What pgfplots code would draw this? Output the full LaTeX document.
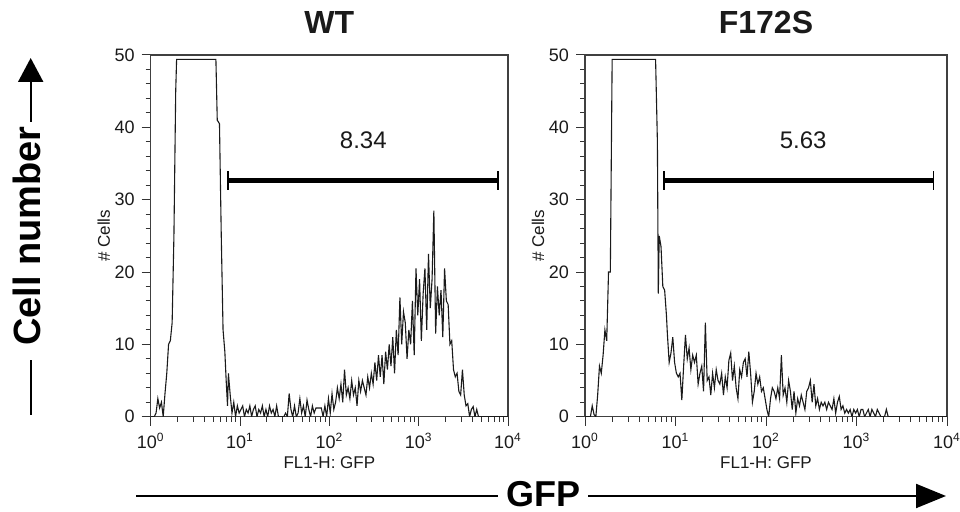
\documentclass[border=0pt]{standalone}
\usepackage{fontspec}
\setmainfont{Liberation Sans}
\usepackage{pgfplots}
\usepackage{pgfplotstable}
\pgfplotsset{compat=1.18}
\usetikzlibrary{arrows.meta}

% x = log10 of FL1-H channel, n = # cells
\pgfplotstableread[row sep=\\]{
lx n\\
0 0\\ 0.02 0\\ 0.04 0\\ 0.06 0.5\\ 0.08 2.5\\ 0.10 1.2\\ 0.12 2\\ 0.14 0\\ 0.16 3.2\\ 0.18 6\\
0.20 10\\ 0.22 10.5\\ 0.24 13\\ 0.26 25\\ 0.28 45\\ 0.29 49.4\\ 0.73 49.4\\ 0.745 41\\ 0.77 40.5\\ 0.79 25\\
0.81 12\\ 0.83 9\\ 0.845 5\\ 0.86 1.5\\ 0.87 6\\ 0.89 3\\ 0.91 0.5\\ 0.93 2\\ 0.95 0\\ 0.97 1.5\\
0.99 0.5\\ 1.01 1\\ 1.03 1.5\\ 1.05 0\\ 1.07 1\\ 1.09 0.5\\ 1.11 1.5\\ 1.13 0\\ 1.15 1\\ 1.17 1.5\\
1.19 0\\ 1.21 1\\ 1.23 0.5\\ 1.25 1.5\\ 1.27 0\\ 1.29 1\\ 1.31 0\\ 1.33 1.5\\ 1.35 0.5\\ 1.37 1\\
1.39 0\\ 1.41 1.5\\ 1.43 0\\ 1.45 0\\ 1.47 0\\ 1.49 0\\ 1.51 0.5\\ 1.53 0\\ 1.55 3.2\\ 1.57 1\\
1.59 0\\ 1.61 1.5\\ 1.63 0\\ 1.65 0.5\\ 1.67 2.5\\ 1.69 0.5\\ 1.71 1.5\\ 1.73 0\\ 1.75 2.3\\ 1.77 1\\
1.79 0\\ 1.81 1.5\\ 1.83 0.5\\ 1.85 1.2\\ 1.87 1.2\\ 1.89 1.2\\ 1.91 1.2\\ 1.93 0\\ 1.95 1.5\\ 1.97 0\\
1.99 2.5\\ 2.01 0.5\\ 2.03 3.2\\ 2.05 1\\ 2.07 2\\ 2.09 4\\ 2.11 2.5\\ 2.13 4.5\\ 2.15 2\\ 2.17 6.5\\
2.19 3\\ 2.21 4\\ 2.23 2.5\\ 2.25 5\\ 2.27 3\\ 2.29 4\\ 2.31 1.5\\ 2.33 5\\ 2.35 3.5\\ 2.37 5\\
2.39 4\\ 2.41 3\\ 2.43 5.5\\ 2.45 4\\ 2.47 6\\ 2.49 4.5\\ 2.51 7.5\\ 2.53 5\\ 2.55 8.5\\ 2.57 5.5\\
2.59 8.5\\ 2.61 4.5\\ 2.63 9\\ 2.65 6.5\\ 2.67 10\\ 2.69 7\\ 2.71 11\\ 2.73 6\\ 2.75 12\\ 2.77 8.5\\
2.79 16.5\\ 2.81 10\\ 2.83 14.5\\ 2.85 13\\ 2.87 8\\ 2.89 12\\ 2.91 10\\ 2.93 16\\ 2.95 8.5\\ 2.97 20.5\\
2.99 14\\ 3.01 19\\ 3.03 10.5\\ 3.05 17\\ 3.07 20.5\\ 3.09 12\\ 3.11 22.5\\ 3.13 15\\ 3.15 19\\ 3.17 28.5\\
3.19 11.5\\ 3.21 18\\ 3.23 14\\ 3.25 17.5\\ 3.27 11\\ 3.29 20.5\\ 3.31 16\\ 3.33 15.5\\ 3.35 10\\ 3.37 10.5\\
3.39 6.5\\ 3.41 5.5\\ 3.43 6\\ 3.45 3.5\\ 3.47 3\\ 3.49 6.5\\ 3.51 3\\ 3.53 1.5\\ 3.55 1.8\\ 3.57 0\\
3.59 1\\ 3.61 1.4\\ 3.63 0\\ 3.65 1\\ 3.67 0\\ 4 0\\
}\wtdata

\pgfplotstableread[row sep=\\]{
lx n\\
0 0\\ 0.02 0\\ 0.04 0\\ 0.06 0\\ 0.08 1.5\\ 0.10 0.3\\ 0.12 0\\ 0.14 3\\ 0.16 7\\ 0.18 6\\
0.20 8.5\\ 0.22 12\\ 0.24 10.5\\ 0.26 20\\ 0.28 20\\ 0.30 49.4\\ 0.78 49.4\\ 0.80 38\\ 0.81 17\\ 0.82 25\\
0.84 23.5\\ 0.86 18\\ 0.88 17.5\\ 0.90 14\\ 0.91 11.5\\ 0.93 7.5\\ 0.95 8.8\\ 0.97 11\\ 0.99 7.5\\ 1.01 6\\
1.03 5.5\\ 1.05 6\\ 1.07 2.3\\ 1.09 7\\ 1.11 11.3\\ 1.13 8\\ 1.15 9.5\\ 1.17 6.5\\ 1.19 8.5\\ 1.21 7.5\\
1.23 8.5\\ 1.25 4.5\\ 1.27 6\\ 1.29 7\\ 1.31 3.5\\ 1.33 13\\ 1.35 5\\ 1.37 5.5\\ 1.39 3\\ 1.41 6\\
1.43 4\\ 1.45 6.5\\ 1.47 5\\ 1.49 4.5\\ 1.51 6\\ 1.53 3\\ 1.55 5.5\\ 1.57 4\\ 1.59 7.8\\ 1.61 8.8\\
1.63 5\\ 1.65 7\\ 1.67 4\\ 1.69 2.5\\ 1.71 6.5\\ 1.73 5.5\\ 1.75 7.5\\ 1.77 8\\ 1.79 5.5\\ 1.81 9\\
1.83 6\\ 1.85 2\\ 1.87 3.5\\ 1.89 6\\ 1.91 4.5\\ 1.93 5.5\\ 1.95 3.5\\ 1.97 4\\ 1.99 2.5\\ 2.01 1\\
2.03 0\\ 2.05 2.5\\ 2.07 4\\ 2.09 3.5\\ 2.11 2.5\\ 2.13 4\\ 2.15 2.5\\ 2.17 8.5\\ 2.19 3\\ 2.21 4\\
2.23 2\\ 2.25 5\\ 2.27 3.5\\ 2.29 1\\ 2.31 3.5\\ 2.33 0.5\\ 2.35 2.5\\ 2.37 1.5\\ 2.39 3\\ 2.41 2\\
2.43 1\\ 2.45 3.5\\ 2.47 4\\ 2.49 5\\ 2.51 2\\ 2.53 4.5\\ 2.55 1.5\\ 2.57 2.5\\ 2.59 1\\ 2.61 2\\
2.63 1.5\\ 2.65 2\\ 2.67 1\\ 2.69 2\\ 2.71 1.5\\ 2.73 1\\ 2.75 2.5\\ 2.77 0.5\\ 2.79 2\\ 2.81 2.8\\
2.83 1\\ 2.85 1.5\\ 2.87 0.5\\ 2.89 1\\ 2.91 0.5\\ 2.93 1\\ 2.95 0\\ 2.97 1\\ 2.99 0.5\\ 3.01 1\\
3.03 0\\ 3.05 1\\ 3.07 1\\ 3.09 0\\ 3.11 0.5\\ 3.13 1\\ 3.15 0\\ 3.17 1\\ 3.19 0.5\\ 3.21 0\\
3.23 1\\ 3.25 0.5\\ 3.27 0\\ 3.29 0\\ 3.31 0\\ 3.33 1\\ 3.35 0\\ 4 0\\
}\mutdata

\definecolor{ink}{HTML}{1A1A1A}

\pgfplotsset{
  facs/.style={
    scale only axis, height=180.85pt,
    xmin=0, xmax=4, ymin=0, ymax=50,
    xtick={0,1,2,3,4},
    xticklabels={10\textsuperscript{0},10\textsuperscript{1},10\textsuperscript{2},10\textsuperscript{3},10\textsuperscript{4}},
    minor xtick={0.301,0.477,0.602,0.699,0.778,0.845,0.903,0.954,
                 1.301,1.477,1.602,1.699,1.778,1.845,1.903,1.954,
                 2.301,2.477,2.602,2.699,2.778,2.845,2.903,2.954,
                 3.301,3.477,3.602,3.699,3.778,3.845,3.903,3.954},
    ytick={0,10,20,30,40,50}, minor y tick num=4,
    tick pos=left, tick align=outside,
    major tick length=4.5pt, minor tick length=2.5pt,
    axis line style={line width=0.6pt, black!75},
    every tick/.style={black!80, line width=0.5pt},
    tick label style={font=\fontsize{9}{10}\selectfont, text=ink},
    /pgf/number format/assume math mode=true,
    ylabel={\# Cells}, xlabel={FL1-H: GFP},
    label style={font=\fontsize{8.5}{10}\selectfont, text=ink},
    ylabel style={at={(axis description cs:0,0.5)}, anchor=center, yshift=23.5pt},
    xlabel style={at={(axis description cs:0.5,0)}, anchor=center, yshift=-23pt},
    title style={font=\bfseries\fontsize{16}{19}\selectfont, text=ink,
                 at={(axis description cs:0.5,1)}, anchor=base, yshift=4.5pt},
  },
  hist/.style={ink, line width=0.55pt, mark=none},
  gate/.style={black, line width=2.5pt},
  gateend/.style={black, line width=0.8pt},
}
\tikzset{gatelbl/.style={font=\fontsize{12}{14}\selectfont, text=ink}}

\begin{document}
\begin{tikzpicture}
\useasboundingbox (0,0) rectangle (480pt,-256pt);

\begin{axis}[facs, width=178.65pt, at={(75.35pt,-208.35pt)}, anchor=south west, title={WT}]
\addplot[hist] table[x=lx, y=n] {\wtdata};
\addplot[gate] coordinates {(0.865,32.7) (3.888,32.7)};
\addplot[gateend] coordinates {(0.865,31.4) (0.865,34.0)};
\addplot[gateend] coordinates {(3.888,31.4) (3.888,34.0)};
\node[gatelbl] at (axis cs:2.38,38.25) {8.34};
\end{axis}

\begin{axis}[facs, width=181pt, at={(292.5pt,-208.35pt)}, anchor=south west, title={F172S}]
\addplot[hist] table[x=lx, y=n] {\mutdata};
\addplot[gate] coordinates {(0.876,32.7) (3.849,32.7)};
\addplot[gateend] coordinates {(0.876,31.4) (0.876,34.0)};
\addplot[gateend] coordinates {(3.849,31.4) (3.849,34.0)};
\node[gatelbl] at (axis cs:2.41,38.25) {5.63};
\end{axis}

% outer annotation arrows
\draw[black, line width=1pt, -{Triangle[length=12pt,width=12.5pt]}] (15.35pt,-61pt) -- (15.35pt,-29pt);
\draw[black, line width=1pt] (15.35pt,-207.5pt) -- (15.35pt,-180pt);
\node[rotate=90, font=\bfseries\fontsize{19}{22}\selectfont] at (13.5pt,-118pt) {Cell number};

\draw[black, line width=1pt] (68pt,-248pt) -- (249pt,-248pt);
\draw[black, line width=1pt, -{Triangle[length=15pt,width=12pt]}] (294pt,-248pt) -- (473pt,-248pt);
\node[font=\bfseries\fontsize{18}{21}\selectfont, anchor=base] at (271.5pt,-253.5pt) {GFP};
\end{tikzpicture}
\end{document}
